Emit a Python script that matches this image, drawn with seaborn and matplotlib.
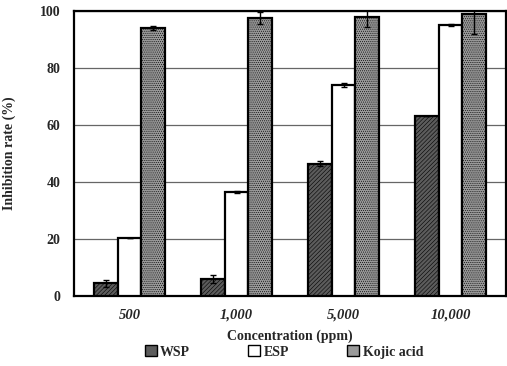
import numpy as np
import pandas as pd
import matplotlib
matplotlib.use("Agg")
import matplotlib.pyplot as plt
import seaborn as sns

categories = ["500", "1,000", "5,000", "10,000"]
series = ["WSP", "ESP", "Kojic acid"]
wsp = [4.5, 6.0, 46.5, 63.0]
esp = [20.5, 36.5, 74.0, 95.0]
kojic = [94.0, 97.5, 98.0, 99.0]
wsp_err = [1.2, 1.5, 0.8, 0.0]
esp_err = [0.0, 0.5, 0.7, 0.4]
kojic_err = [0.6, 2.0, 3.5, 7.0]

rows = []
for s, vals, errs in zip(series, [wsp, esp, kojic], [wsp_err, esp_err, kojic_err]):
    for c, v, e in zip(categories, vals, errs):
        rows.append({"Concentration": c, "Series": s, "Value": v, "Err": e})
df = pd.DataFrame(rows)

sns.set_style("white")
plt.rcParams["font.family"] = ["Liberation Serif", "DejaVu Serif"]
plt.rcParams["font.weight"] = "bold"
plt.rcParams["hatch.linewidth"] = 0.4

fig = plt.figure(figsize=(5.07, 3.66), dpi=100)
ax = fig.add_axes([0.146, 0.191, 0.852, 0.779])

colors = ["#5c5c5c", "#ffffff", "#9a9a9a"]
sns.barplot(data=df, x="Concentration", y="Value", hue="Series",
            order=categories, hue_order=series, palette=colors,
            width=0.67, errorbar=None, ax=ax,
            edgecolor="black", linewidth=1.6, zorder=3)

hatches = ["////////", None, "........"]
bar_containers = list(ax.containers)
for ci, cont in enumerate(bar_containers):
    sub = df[df["Series"] == series[ci]].set_index("Concentration").loc[categories]
    xs, ys, es = [], [], []
    for bar, (_, r) in zip(cont.patches, sub.iterrows()):
        if hatches[ci]:
            bar.set_hatch(hatches[ci])
        xs.append(bar.get_x() + bar.get_width() / 2)
        ys.append(r["Value"])
        es.append(r["Err"])
    ax.errorbar(xs, ys, yerr=es, fmt="none", ecolor="black",
                elinewidth=1.0, capsize=2.5, capthick=1.0, zorder=4)

ax.set_ylim(0, 100)
ax.set_yticks([0, 20, 40, 60, 80, 100])
ax.set_yticklabels(["0", "20", "40", "60", "80", "100"], fontsize=10, fontweight="bold")
ax.yaxis.grid(True, color="#666666", linewidth=0.9, zorder=0)
ax.set_axisbelow(True)
ax.tick_params(axis="y", length=0, pad=10)
ax.tick_params(axis="x", length=0, pad=9)
ax.set_xticks(range(len(categories)))
ax.set_xticklabels(categories, fontsize=10.5, fontweight="bold", fontstyle="italic")
ax.set_xlabel("Concentration (ppm)", fontsize=10, fontweight="bold", labelpad=6)
ax.set_ylabel("Inhibition rate (%)", fontsize=10, fontweight="bold")
ax.yaxis.set_label_coords(-0.135, 0.5)
for sp in ax.spines.values():
    sp.set_color("black")
    sp.set_linewidth(1.6)

handles, labels = ax.get_legend_handles_labels()
ax.legend_.remove() if ax.legend_ else None
leg = fig.legend(handles, labels, loc="center", bbox_to_anchor=(0.56, 0.038), ncol=3,
                 frameon=False, prop={"weight": "bold", "size": 10},
                 handlelength=0.85, handleheight=0.85, handletextpad=0.25,
                 columnspacing=4.2)
for h in leg.legend_handles:
    h.set_linewidth(1.0)

fig.savefig("out.png", dpi=100)
